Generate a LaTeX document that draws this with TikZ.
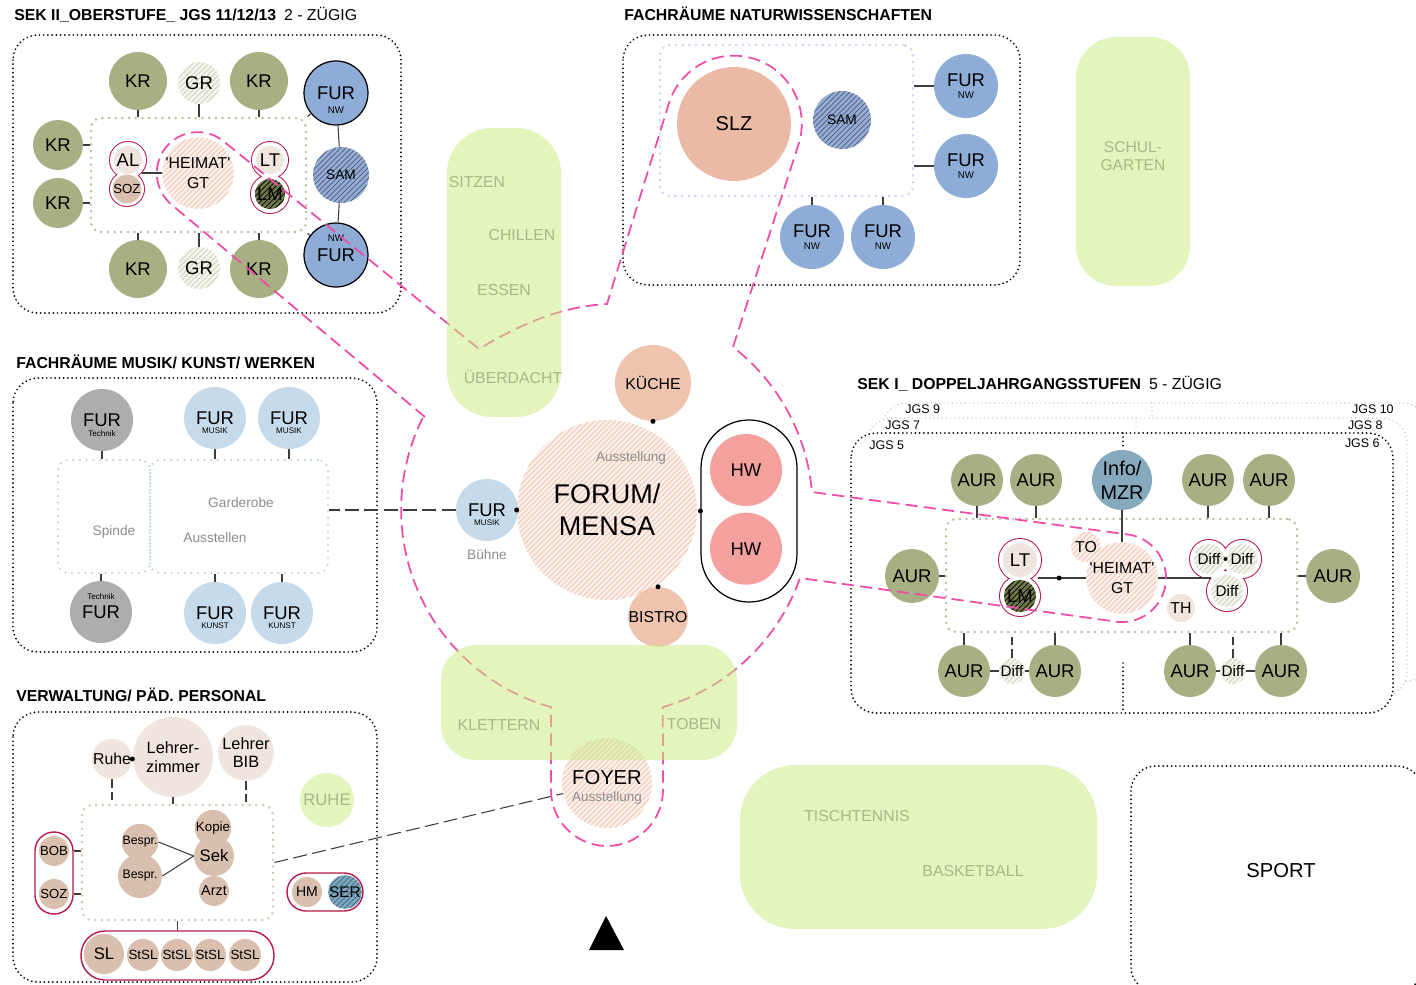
\documentclass[tikz,border=0pt]{standalone}
\usepackage{fontspec}
\setmainfont{Liberation Sans}
\usetikzlibrary{shapes,calc,positioning,patterns}

\definecolor{krgreen}{RGB}{167,176,131}
\definecolor{nwblue}{RGB}{141,172,214}
\definecolor{samblue}{RGB}{150,172,208}
\definecolor{samline}{RGB}{70,95,135}
\definecolor{beigec}{RGB}{239,229,222}
\definecolor{tanc}{RGB}{217,191,174}
\definecolor{salmonc}{RGB}{235,186,164}
\definecolor{hatchbase}{RGB}{252,240,235}
\definecolor{hatchline}{RGB}{240,190,172}
\definecolor{grbase}{RGB}{244,246,238}
\definecolor{grline}{RGB}{198,206,180}
\definecolor{lmbase}{RGB}{110,120,75}
\definecolor{crimson}{RGB}{184,25,75}
\definecolor{pinkdash}{RGB}{240,75,165}
\definecolor{gardenc}{RGB}{204,235,135}
\definecolor{greentext}{RGB}{168,184,138}
\definecolor{musikblue}{RGB}{197,218,234}
\definecolor{techgray}{RGB}{173,173,173}
\definecolor{hwred}{RGB}{244,160,158}
\definecolor{kuechec}{RGB}{238,196,174}
\definecolor{infoblue}{RGB}{134,169,190}
\definecolor{serblue}{RGB}{127,166,188}
\definecolor{serline}{RGB}{60,105,133}
\definecolor{olivedot}{RGB}{190,190,160}
\definecolor{nwdot}{RGB}{200,214,242}
\definecolor{mudot}{RGB}{185,208,220}
\definecolor{verwdot}{RGB}{216,198,180}
\definecolor{jgsgray}{RGB}{190,190,190}
\definecolor{labelgray}{RGB}{140,140,140}
\definecolor{tickc}{RGB}{60,60,60}

\newcommand{\tagtxt}[1]{{\fontsize{5.5}{6}\selectfont #1}}
\newcommand{\apo}{\textquotesingle}

\tikzset{
  room/.style={circle, inner sep=0pt, align=center, font=\fontsize{10.5}{7}\selectfont},
  sz/.style={minimum size=#1*0.04cm},
  wh/.style 2 args={minimum width=#1*0.02cm, minimum height=#2*0.02cm},
  subtag/.style n args={3}{label={[inner sep=0pt, font=\fontsize{#2}{#2}\selectfont, yshift=#3]center:#1}},
  kr/.style={room, fill=krgreen},
  fur/.style={room, fill=nwblue},
  lightroom/.style={room, fill=beigec},
  tanroom/.style={room, fill=tanc},
  hatched/.style 2 args={room, preaction={fill=#1}, pattern=north east lines, pattern color=#2},
  tick/.style={color=tickc, line width=0.6pt},
  outerbox/.style={line width=1.1pt, line cap=round, dash pattern=on 0pt off 2.4pt, rounded corners=0.5cm},
  innerbox/.style={draw=#1, rectangle, inner sep=0pt, line width=1.6pt, line cap=round, dash pattern=on 0pt off 3.8pt, rounded corners=0.2cm},
  redpill/.style={draw=crimson, rectangle, inner sep=0pt, line width=0.8pt},
  pinkline/.style={draw=pinkdash, line width=1pt, dash pattern=on 7pt off 3.5pt},
  garden/.style={fill=gardenc, fill opacity=0.55},
  head/.style={anchor=base west, inner sep=0pt, font=\fontsize{9}{10}\selectfont},
  note/.style={inner sep=0pt, text=labelgray, font=\fontsize{7.8}{9}\selectfont},
  gtext/.style={inner sep=0pt, align=center, text=greentext, font=\fontsize{9}{10.2}\selectfont},
  jgs/.style={inner sep=0pt, font=\fontsize{7.1}{8}\selectfont}
}

\begin{document}
\begin{tikzpicture}[x=0.02cm, y=-0.02cm]
\useasboundingbox (0,0) rectangle (1416,984);
\begin{scope}
\clip (0,0) rectangle (1416,984);

% SEK II
\node[head] (t1) at (14,20) {\textbf{SEK II\_OBERSTUFE\_ JGS 11/12/13}\hspace{4.5pt}2 - ZÜGIG};
\draw[outerbox] (13,35) rectangle (401,313);
\node[innerbox=olivedot, wh={215}{114}] (in2) at (198.5,175) {};
\node[kr, sz=29] (kr1) at (138,81) {KR};
\node[hatched={grbase}{grline}, sz=21] (gr1) at (199,83) {GR};
\node[kr, sz=29] (kr2) at (259,81) {KR};
\node[kr, sz=25] (kr3) at (58,145) {KR};
\node[kr, sz=25] (kr4) at (58,203) {KR};
\node[kr, sz=29] (kr5) at (138,269) {KR};
\node[hatched={grbase}{grline}, sz=21] (gr2) at (199,268) {GR};
\node[kr, sz=29] (kr6) at (259,269) {KR};
\node[fur, draw=black, line width=0.7pt, sz=32, subtag={NW}{5.5}{-9.5pt}] (fur1) at (336,93) {FUR};
\node[hatched={samblue}{samline}, sz=28, font=\fontsize{7.8}{9}\selectfont] (sam1) at (341,175) {SAM};
\node[fur, draw=black, line width=0.7pt, sz=32, subtag={NW}{5.5}{9.5pt}] (fur2) at (336,255) {FUR};
\fill[crimson] (128,160) circle (19) (127,189) circle (18) (270,160) circle (19) (270,194) circle (20);
\fill[white] (128,160) circle (18) (127,189) circle (17) (270,160) circle (18) (270,194) circle (19);
\node[lightroom, sz=14] (al) at (128,160) {AL};
\node[tanroom, sz=13, font=\fontsize{7.5}{8}\selectfont] (soz) at (127,189) {SOZ};
\node[hatched={hatchbase}{hatchline}, sz=33, font=\fontsize{9}{11.3}\selectfont] (heimat1) at (198,173) {\apo HEIMAT\apo\\GT};
\node[lightroom, sz=14] (lt1) at (270,160) {LT};
\node[hatched={lmbase}{black}, sz=15] (lm1) at (270,194) {LM};

\path[tick] (kr1.south) edge (kr1.south |- in2.north)
  (gr1.south) edge (gr1.south |- in2.north)
  (kr2.south) edge (kr2.south |- in2.north)
  (kr5.north) edge (kr5.north |- in2.south)
  (gr2.north) edge (gr2.north |- in2.south)
  (kr6.north) edge (kr6.north |- in2.south)
  (kr3.east) edge (kr3.east -| in2.west)
  (kr4.east) edge (kr4.east -| in2.west)
  (fur1) edge (sam1) (sam1) edge (fur2)
  (in2.north east) edge (fur1) (in2.south east) edge (fur2)
  (heimat1.west) edge (heimat1.west -| soz.east);

% Fachraeume NW
\node[head] (t2) at (624,20) {\textbf{FACHRÄUME NATURWISSENSCHAFTEN}};
\draw[outerbox] (623,35) rectangle (1020,285);
\node[innerbox=nwdot, wh={253}{151}] (in3) at (786.5,120.5) {};
\node[room, fill=salmonc, sz=57, font=\fontsize{11.4}{12}\selectfont] (slz) at (734,124) {SLZ};
\node[hatched={samblue}{samline}, sz=29, font=\fontsize{7.8}{9}\selectfont] (sam2) at (842,120) {SAM};
\node[fur, sz=32] (nw1) at (966,86) {FUR\\\tagtxt{NW}};
\node[fur, sz=32] (nw2) at (966,166) {FUR\\\tagtxt{NW}};
\node[fur, sz=32] (nw3) at (812,237) {FUR\\\tagtxt{NW}};
\node[fur, sz=32] (nw4) at (883,237) {FUR\\\tagtxt{NW}};
\path[tick] (nw1.west) edge (nw1.west -| in3.east)
  (nw2.west) edge (nw2.west -| in3.east)
  (nw3.north) edge (nw3.north |- in3.south)
  (nw4.north) edge (nw4.north |- in3.south);

% Fachraeume Musik
\node[head] (t3) at (16,368) {\textbf{FACHRÄUME MUSIK/ KUNST/ WERKEN}};
\draw[outerbox] (13,378) rectangle (377,652);
\node[innerbox=mudot, line width=1.3pt, wh={92}{113}] (spinde) at (104,516.5) {};
\node[innerbox=mudot, line width=1.3pt, wh={178}{113}] (garderobe) at (239,516.5) {};
\node[note] at (114,532) {Spinde};
\node[note] at (241,503) {Garderobe};
\node[note] at (215,538) {Ausstellen};
\node[room, fill=techgray, sz=31, subtag={Technik}{4.6}{-7.5pt}] (tech1) at (102,420) {FUR};
\node[room, fill=musikblue, sz=31, subtag={MUSIK}{4.6}{-7.5pt}] (mus1) at (215,418) {FUR};
\node[room, fill=musikblue, sz=31, subtag={MUSIK}{4.6}{-7.5pt}] (mus2) at (289,418) {FUR};
\node[room, fill=techgray, sz=31, subtag={Technik}{4.6}{9pt}] (tech2) at (101,612) {FUR};
\node[room, fill=musikblue, sz=31, subtag={KUNST}{4.6}{-7.5pt}] (kun1) at (215,613) {FUR};
\node[room, fill=musikblue, sz=31, subtag={KUNST}{4.6}{-7.5pt}] (kun2) at (282,613) {FUR};
\path[tick] (tech1.south) edge (tech1.south |- spinde.north)
  (mus1.south) edge (mus1.south |- garderobe.north)
  (mus2.south) edge (mus2.south |- garderobe.north)
  (tech2.north) edge (tech2.north |- spinde.south)
  (kun1.north) edge (kun1.north |- garderobe.south)
  (kun2.north) edge (kun2.north |- garderobe.south);

% Verwaltung
\node[head] (t4) at (16,701) {\textbf{VERWALTUNG/ PÄD. PERSONAL}};
\draw[outerbox] (13,712) rectangle (377,982);
\node[innerbox=verwdot, wh={191}{115}] (verw) at (177.5,862.5) {};
\node[lightroom, sz=20, font=\fontsize{9}{10}\selectfont] (ruhe) at (112,759) {Ruhe};
\node[lightroom, sz=40, font=\fontsize{9.3}{10.8}\selectfont] (lz) at (173,757) {Lehrer-\\zimmer};
\node[lightroom, sz=26, font=\fontsize{9.3}{10.2}\selectfont] (bib) at (246,753) {Lehrer\\BIB};
\fill (ruhe.east) circle (2.5);
\node[tanroom, sz=15, font=\fontsize{7}{8}\selectfont] (besp1) at (140,842) {Bespr.};
\node[tanroom, sz=22, font=\fontsize{7}{8}\selectfont] (besp2) at (140,876) {Bespr.};
\node[tanroom, sz=12, font=\fontsize{7.6}{8}\selectfont] (kopie) at (213,828) {Kopie};
\node[tanroom, sz=20, font=\fontsize{9.5}{10}\selectfont] (sek) at (214,856) {Sek};
\node[tanroom, sz=15, font=\fontsize{8.2}{9}\selectfont] (arzt) at (214,891) {Arzt};
\node[redpill, rounded corners=0.38cm, wh={38}{82}] (bobgrp) at (54,873) {};
\node[tanroom, sz=15, font=\fontsize{7.5}{8}\selectfont] (bob) at (54,851) {BOB};
\node[tanroom, sz=15, font=\fontsize{7.5}{8}\selectfont] (soz2) at (54,894) {SOZ};
\node[redpill, rounded corners=0.48cm, wh={193}{49}] (slgrp) at (177.5,955.5) {};
\node[tanroom, sz=20, font=\fontsize{9.5}{10}\selectfont] (sl) at (104,954) {SL};
\node[tanroom, sz=16, font=\fontsize{7.6}{8}\selectfont] (stsl1) at (143,955) {StSL};
\node[tanroom, sz=16, font=\fontsize{7.6}{8}\selectfont] (stsl2) at (177,955) {StSL};
\node[tanroom, sz=16, font=\fontsize{7.6}{8}\selectfont] (stsl3) at (210,955) {StSL};
\node[tanroom, sz=16, font=\fontsize{7.6}{8}\selectfont] (stsl4) at (245,955) {StSL};
\node[redpill, rounded corners=0.38cm, wh={76}{38}] (hmgrp) at (325,892) {};
\node[tanroom, sz=15, font=\fontsize{8}{9}\selectfont] (hm) at (307,892) {HM};
\node[hatched={serblue}{serline}, sz=15, font=\fontsize{8.8}{9}\selectfont] (ser) at (345,892) {SER};
\path[tick, dash pattern=on 5pt off 2pt] (ruhe.south) edge (ruhe.south |- verw.north)
  (bib.south) edge (bib.south |- verw.north);
\path[tick] (lz.south) edge (lz.south |- verw.north)
  (bob -| bobgrp.east) edge (bob -| verw.west)
  (soz2 -| bobgrp.east) edge (soz2 -| verw.west)
  (verw.south) edge (slgrp.north)
  (besp1.east) edge (sek.west) (besp2.east) edge (sek.west);

% Forum / Mensa
\node[hatched={hatchbase}{hatchline}, sz=90, font=\fontsize{15.4}{18}\selectfont] (forum) at (607,510) {FORUM/\\MENSA};
\node[note, font=\fontsize{7.7}{9}\selectfont] at (631,458) {Ausstellung};
\node[room, fill=kuechec, sz=38, font=\fontsize{9}{10}\selectfont] (kueche) at (653,383) {KÜCHE};
\node[room, fill=kuechec, sz=29, font=\fontsize{9}{10}\selectfont] (bistro) at (658,617) {BISTRO};
\node[draw=black, line width=0.7pt, rectangle, rounded corners=0.96cm, wh={96}{182}, inner sep=0pt] (hwgrp) at (749,511) {};
\node[room, fill=hwred, sz=36] (hw1) at (746,470) {HW};
\node[room, fill=hwred, sz=36, below=0.12cm of hw1] (hw2) {HW};
\node[room, fill=musikblue, sz=31, subtag={MUSIK}{4.6}{-7.5pt}] (furm) at (487,510) {FUR};
\node[note] at (487,555) {Bühne};
\fill (kueche.south) circle (2.5) (bistro.north) circle (2.5) (hwgrp.west) circle (2.5) (forum.west) circle (2.5);
\path[tick, dash pattern=on 8pt off 3pt] (furm.west) edge (furm.west -| garderobe.east);

\node[hatched={hatchbase}{hatchline}, sz=45] (foyer) at (607,783) {};
\node[inner sep=0pt, font=\fontsize{11.5}{12}\selectfont] (foyerlab) at (607,778) {FOYER};
\node[note, font=\fontsize{7.7}{9}\selectfont] (foyernote) at (607,798) {Ausstellung};
\path[tick, dash pattern=on 8pt off 3pt] (verw.east) edge (foyer);

\fill (606,916) -- (624,950) -- (589,950) -- cycle;

\draw[outerbox] (1131,766) rectangle (1422,992);
\node[inner sep=0pt, font=\fontsize{11.5}{12}\selectfont] (sport) at (1281,871) {SPORT};

% SEK I
\node[head] (t5) at (857,389) {\textbf{SEK I\_ DOPPELJAHRGANGSSTUFEN}\hspace{4.5pt}5 - ZÜGIG};
\draw[outerbox, color=jgsgray, line width=0.8pt, fill=white] (882,403) rectangle (1428,682);
\draw[outerbox, color=jgsgray, line width=0.8pt, fill=white] (867,418) rectangle (1407,697);
\draw[outerbox, fill=white] (851,433) rectangle (1393,713);
\draw[outerbox, color=jgsgray, line width=0.8pt] (1152,403) -- (1152,416) (1136,418) -- (1136,428);
\draw[outerbox] (1123,433) -- (1123,446) (1123,663) -- (1123,713);
\node[jgs, anchor=west] at (905,409) {JGS 9};
\node[jgs, anchor=east] at (1394,409) {JGS 10};
\node[jgs, anchor=west] at (885,425) {JGS 7};
\node[jgs, anchor=east] at (1383,425) {JGS 8};
\node[jgs, anchor=west] at (869,445) {JGS 5};
\node[jgs, anchor=east] at (1380,443) {JGS 6};
\node[innerbox=olivedot, wh={351}{113}] (in1) at (1121.5,575.5) {};
\node[kr, sz=26] (aur1) at (977,480) {AUR};
\node[kr, sz=26] (aur2) at (1036,480) {AUR};
\node[room, fill=infoblue, sz=30, font=\fontsize{11.3}{13.6}\selectfont] (info) at (1122,480) {Info/\\MZR};
\node[kr, sz=26] (aur3) at (1208,480) {AUR};
\node[kr, sz=26] (aur4) at (1269,480) {AUR};
\node[kr, sz=27] (aur5) at (912,576) {AUR};
\node[kr, sz=27] (aur6) at (1333,576) {AUR};
\node[kr, sz=26] (aur7) at (964,671) {AUR};
\node[hatched={grbase}{grline}, sz=13, font=\fontsize{8.7}{9}\selectfont] (diff1) at (1012,671) {Diff};
\node[kr, sz=26] (aur8) at (1055,671) {AUR};
\node[kr, sz=26] (aur9) at (1190,671) {AUR};
\node[hatched={grbase}{grline}, sz=13, font=\fontsize{8.7}{9}\selectfont] (diff2) at (1233,671) {Diff};
\node[kr, sz=26] (aur10) at (1281,671) {AUR};
\fill[crimson] (1020,560) circle (22) (1020,596) circle (21) (1209,559) circle (20) (1242,559) circle (20) (1227,591) circle (21);
\fill[white] (1020,560) circle (21) (1020,596) circle (20) (1209,559) circle (19) (1242,559) circle (19) (1227,591) circle (20);
\node[lightroom, sz=17] (lt2) at (1020,560) {LT};
\node[hatched={lmbase}{black}, sz=16] (lm2) at (1020,596) {LM};
\node[hatched={hatchbase}{hatchline}, sz=15, font=\fontsize{9}{10}\selectfont] (tor) at (1086,547) {TO};
\node[hatched={hatchbase}{hatchline}, sz=32, font=\fontsize{9}{11.3}\selectfont] (heimat2) at (1122,578) {\apo HEIMAT\apo\\GT};
\node[lightroom, sz=14, font=\fontsize{9}{10}\selectfont] (th) at (1181,608) {TH};
\node[hatched={grbase}{grline}, sz=15, font=\fontsize{8.7}{9}\selectfont] (diff3) at (1209,559) {Diff};
\node[hatched={grbase}{grline}, sz=15, font=\fontsize{8.7}{9}\selectfont] (diff4) at (1242,559) {Diff};
\node[hatched={grbase}{grline}, sz=16, font=\fontsize{8.7}{9}\selectfont] (diff5) at (1227,591) {Diff};
\fill ($(diff3)!0.5!(diff4)$) circle (2);
\coordinate (j1) at (1038,578);
\path[tick] (aur1.south) edge (aur1.south |- in1.north)
  (aur2.south) edge (aur2.south |- in1.north)
  (aur3.south) edge (aur3.south |- in1.north)
  (aur4.south) edge (aur4.south |- in1.north)
  (info.south) edge (heimat2.north)
  (aur5.east) edge (aur5.east -| in1.west)
  (aur6.west) edge (aur6.west -| in1.east)
  (aur7.north) edge (aur7.north |- in1.south)
  (aur8.north) edge (aur8.north |- in1.south)
  (aur9.north) edge (aur9.north |- in1.south)
  (aur10.north) edge (aur10.north |- in1.south)
  (aur7) edge (diff1) (diff1) edge (aur8)
  (aur9) edge (diff2) (diff2) edge (aur10)
  (j1) edge (heimat2.west)
  (heimat2.east) edge (heimat2.east -| diff5.west);
\path[tick, dash pattern=on 5pt off 2pt] (diff1.north) edge (diff1.north |- in1.south)
  (diff2.north) edge (diff2.north |- in1.south);
\fill ($(j1)!0.44!(heimat2.west)$) circle (2.5);

% Erschliessung
\draw[pinkline] (425,417) -- (172,205) arc[start angle=129, end angle=309, radius=41] -- (479,349)
  .. controls (530,318) and (570,306) .. (607,304) -- (669,103)
  arc[start angle=197.7, end angle=376.8, radius=68] -- (733,347)
  arc[start angle=-52.3, end angle=-4.8, radius=205] -- (1127.5,534.4)
  arc[start angle=-82.8, end angle=99.2, radius=44] -- (800,578)
  arc[start angle=19.4, end angle=74.1, radius=205] -- (663,790)
  arc[start angle=0, end angle=180, radius=56] -- (551,707)
  arc[start angle=105.6, end angle=207.1, radius=205] -- cycle;

% Freiflaechen
\path[garden, rounded corners=0.9cm] (447,128) rectangle (561,417);
\path[garden, rounded corners=0.8cm] (1076,37) rectangle (1190,286);
\path[garden, rounded corners=0.7cm] (441,645) rectangle (737,760);
\path[garden, rounded corners=1.1cm] (740,765) rectangle (1097,929);
\path[garden] (327,800) circle (27);
\node[gtext] at (477,182) {SITZEN};
\node[gtext] at (522,235) {CHILLEN};
\node[gtext] at (504,290) {ESSEN};
\node[gtext] at (513,377) {ÜBERDACHT};
\node[gtext, font=\fontsize{8.9}{10.2}\selectfont] at (1133,156) {SCHUL-\\GARTEN};
\node[gtext] at (499,725) {KLETTERN};
\node[gtext] at (694,724) {TOBEN};
\node[gtext] at (857,816) {TISCHTENNIS};
\node[gtext] at (973,871) {BASKETBALL};
\node[gtext, font=\fontsize{9.5}{10}\selectfont] at (327,800) {RUHE};
\end{scope}
\end{tikzpicture}
\end{document}
